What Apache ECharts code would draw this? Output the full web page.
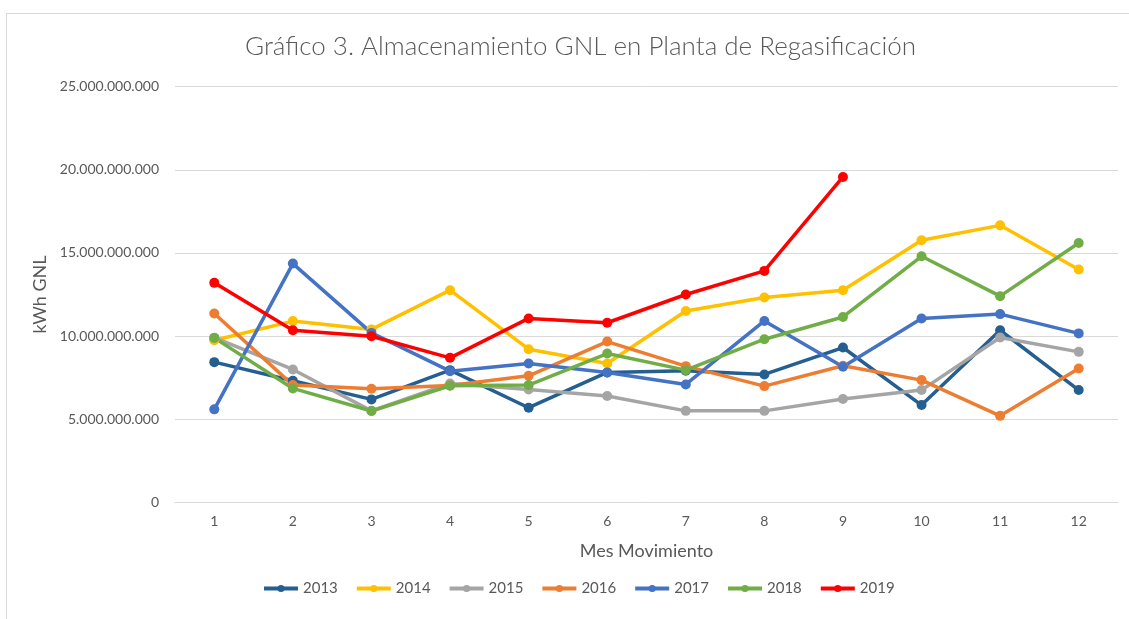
<!DOCTYPE html>
<html>
<head>
<meta charset="utf-8">
<script src="https://cdn.jsdelivr.net/npm/echarts@6/dist/echarts.min.js"></script>
<style>
  html, body { margin: 0; padding: 0; background: #fff; }
  #wrap { position: relative; width: 1129px; height: 619px; overflow: hidden; }
  #frame { position: absolute; left: 6px; top: 13px; width: 1200px; height: 700px;
           border-top: 1px solid #d9d9d9; border-left: 1px solid #d9d9d9; }
  #chart { position: absolute; left: 0; top: 0; width: 1129px; height: 619px; }
</style>
</head>
<body>
<div id="wrap">
  <div id="frame"></div>
  <div id="chart"></div>
</div>
<script>
// mes del movimiento
const months = ['1', '2', '3', '4', '5', '6', '7', '8', '9', '10', '11', '12']

// almacenamiento, miles de millones de kWh
const y2013 = [8.43, 7.31, 6.19, 7.95, 5.69, 7.81, 7.91, 7.69, 9.31, 5.85, 10.35, 6.75]
const y2014 = [9.75, 10.9, 10.4, 12.76, 9.21, 8.35, 11.51, 12.32, 12.76, 15.76, 16.66, 14.0]
const y2015 = [9.9, 7.99, 5.5, 7.15, 6.79, 6.39, 5.5, 5.5, 6.21, 6.75, 9.91, 9.05]
const y2016 = [11.36, 7.05, 6.83, 7.03, 7.61, 9.67, 8.19, 6.99, 8.21, 7.35, 5.2, 8.05]
const y2017 = [5.59, 14.36, 10.19, 7.89, 8.35, 7.81, 7.09, 10.91, 8.15, 11.06, 11.32, 10.16]
const y2018 = [9.89, 6.85, 5.49, 7.01, 7.05, 8.95, 7.95, 9.81, 11.15, 14.8, 12.4, 15.6]
const y2019 = [13.2, 10.35, 9.99, 8.69, 11.06, 10.8, 12.5, 13.92, 19.57]

const yTicks = [0, 5e9, 10e9, 15e9, 20e9, 25e9]

const years = ['2013', '2014', '2015', '2016', '2017', '2018', '2019']
const colors = ['#255e91', '#ffc000', '#a5a5a5', '#ed7d31', '#4472c4', '#70ad47', '#ff0000']
const values = [y2013, y2014, y2015, y2016, y2017, y2018, y2019]

const font = 'Lato, "Open Sans", sans-serif'

function dots(v) {
  return String(Math.round(v)).replace(/\B(?=(\d{3})+(?!\d))/g, '.')
}

const chart = echarts.init(document.getElementById('chart'))

chart.setOption({
  animation: false,
  color: colors,
  textStyle: { fontFamily: font },
  title: {
    text: 'Gráfico 3. Almacenamiento GNL en Planta de Regasificación',
    left: 240,
    top: 29,
    textStyle: { fontFamily: font, fontSize: 26, fontWeight: 300, color: '#595959' }
  },
  legend: {
    data: years,
    bottom: 18,
    left: 257,
    itemWidth: 34,
    itemHeight: 9,
    itemGap: 17,
    lineStyle: { width: 4 },
    textStyle: { fontSize: 15, color: '#595959' }
  },
  grid: { left: 175, right: 11, top: 86.7, bottom: 116.7 },
  xAxis: {
    type: 'category',
    data: months,
    name: 'Mes Movimiento',
    nameLocation: 'middle',
    nameGap: 40,
    nameTextStyle: { fontSize: 18, color: '#595959' },
    axisLine: { lineStyle: { color: '#d9d9d9' } },
    axisTick: { show: false },
    axisLabel: { fontSize: 14, color: '#595959', margin: 12 }
  },
  yAxis: {
    type: 'value',
    min: yTicks[0],
    max: yTicks[yTicks.length - 1],
    interval: yTicks[1] - yTicks[0],
    name: 'kWh GNL',
    nameLocation: 'middle',
    nameGap: 126,
    nameTextStyle: { fontSize: 18, color: '#595959' },
    axisLine: { show: false },
    axisTick: { show: false },
    splitLine: { lineStyle: { color: '#d9d9d9', width: 1 } },
    axisLabel: { fontSize: 14, color: '#595959', margin: 16, formatter: dots }
  },
  series: years.map((name, i) => ({
    name,
    type: 'line',
    data: values[i].map((v) => v * 1e9),
    symbol: 'circle',
    symbolSize: 10,
    lineStyle: { width: 3.5, color: colors[i] },
    itemStyle: { color: colors[i] }
  }))
})
</script>
</body>
</html>
